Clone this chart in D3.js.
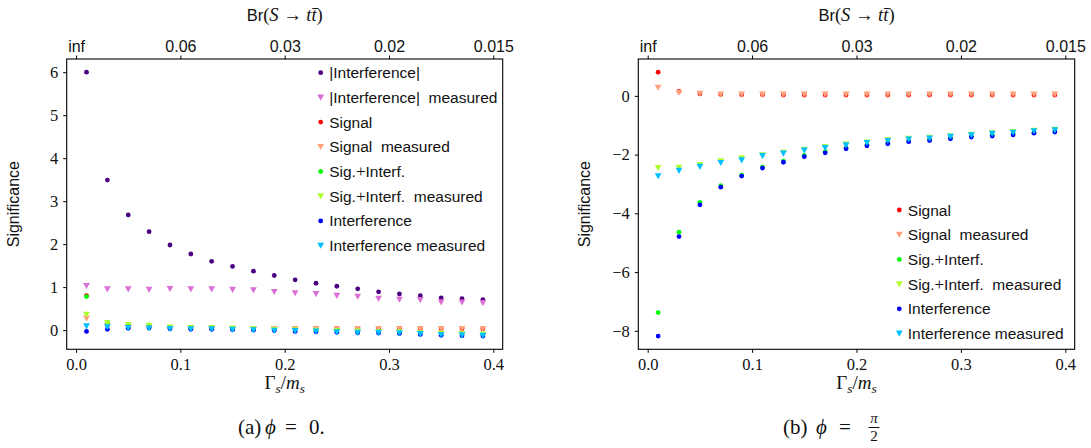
<!DOCTYPE html>
<html><head><meta charset="utf-8">
<script src="https://cdn.jsdelivr.net/npm/d3@7"></script>
<style>body{margin:0;background:#fff} svg{display:block}</style>
</head><body>
<script>
// ---------- data ----------
const gammaOverM = [0.01,0.03,0.05,0.07,0.09,0.11,0.13,0.15,0.17,0.19,0.21,0.23,0.25,0.27,0.29,0.31,0.33,0.35,0.37,0.39];
const xTicks = [0,0.1,0.2,0.3,0.4];
const brTickPositions = [0,0.1,0.2,0.3,0.4];
const brTickLabels = ["inf","0.06","0.03","0.02","0.015"];
const leftYTicks = [0,1,2,3,4,5,6];
const rightYTicks = [-8,-6,-4,-2,0];

// phi = 0
const absInterfL     = [6.0,3.49,2.68,2.29,1.98,1.77,1.60,1.48,1.37,1.27,1.17,1.09,1.02,0.96,0.89,0.84,0.80,0.75,0.73,0.71];
const absInterfMeasL = [1.03,0.95,0.95,0.94,0.96,0.95,0.95,0.94,0.93,0.89,0.86,0.84,0.80,0.78,0.73,0.71,0.70,0.65,0.645,0.63];
const signalL        = [0.80,0.12,0.07,0.06,0.05,0.04,0.04,0.03,0.03,0.03,0.03,0.03,0.03,0.03,0.03,0.03,0.03,0.03,0.03,0.03];
const signalMeasL    = [0.27,0.10,0.06,0.05,0.04,0.04,0.03,0.03,0.03,0.03,0.03,0.03,0.03,0.03,0.03,0.03,0.03,0.03,0.03,0.03];
const sigIntL        = [0.78,0.18,0.12,0.12,0.07,0.05,0.05,0.04,0.02,0.01,0.0,-0.01,-0.02,-0.03,-0.04,-0.05,-0.07,-0.08,-0.09,-0.10];
const sigIntMeasL    = [0.36,0.16,0.12,0.10,0.06,0.05,0.05,0.04,0.02,0.01,0.0,-0.01,-0.02,-0.03,-0.04,-0.05,-0.07,-0.08,-0.09,-0.10];
const interfL        = [-0.03,0.02,0.04,0.05,0.03,0.02,0.02,0.01,0.0,-0.01,-0.03,-0.04,-0.05,-0.06,-0.07,-0.08,-0.10,-0.12,-0.13,-0.14];
const interfMeasL    = [0.09,0.07,0.05,0.04,0.03,0.02,0.02,0.01,0.0,-0.01,-0.02,-0.03,-0.05,-0.06,-0.06,-0.07,-0.09,-0.11,-0.12,-0.13];

// phi = pi/2
const signalR        = [0.806,0.15,0.07,0.05,0.04,0.04,0.03,0.03,0.03,0.03,0.03,0.03,0.03,0.03,0.03,0.03,0.03,0.03,0.03,0.03];
const signalMeasR    = [0.28,0.11,0.08,0.05,0.05,0.05,0.05,0.05,0.05,0.05,0.05,0.05,0.05,0.05,0.05,0.05,0.05,0.05,0.05,0.05];
const sigIntR        = [-7.38,-4.64,-3.63,-3.06,-2.70,-2.43,-2.22,-2.03,-1.90,-1.77,-1.67,-1.60,-1.54,-1.49,-1.43,-1.38,-1.34,-1.30,-1.25,-1.21];
const sigIntMeasR    = [-2.45,-2.44,-2.35,-2.22,-2.12,-2.02,-1.93,-1.83,-1.74,-1.65,-1.58,-1.51,-1.46,-1.42,-1.37,-1.32,-1.27,-1.23,-1.18,-1.15];
const interfR        = [-8.18,-4.79,-3.71,-3.11,-2.73,-2.46,-2.26,-2.07,-1.94,-1.80,-1.70,-1.63,-1.56,-1.52,-1.46,-1.40,-1.37,-1.33,-1.27,-1.23];
const interfMeasR    = [-2.73,-2.55,-2.41,-2.28,-2.19,-2.04,-1.96,-1.86,-1.77,-1.68,-1.60,-1.53,-1.48,-1.45,-1.39,-1.34,-1.29,-1.25,-1.20,-1.17];

// ---------- styles ----------
const SANS = "Liberation Sans, Arial, sans-serif";
const SERIF = "Liberation Serif, Times New Roman, serif";
const W = 1091, H = 448;

const svg = d3.select("body").append("svg").attr("width", W).attr("height", H);

const leftSeries = [
  {label:["|Interference|"], data:absInterfL, color:"#4B0082", shape:"o"},
  {label:["|Interference|  measured"], data:absInterfMeasL, color:"#DA70D6", shape:"v"},
  {label:["Signal"], data:signalL, color:"#FF0000", shape:"o"},
  {label:["Signal  measured"], data:signalMeasL, color:"#FFA07A", shape:"v"},
  {label:["Sig.","+","Interf."], data:sigIntL, color:"#00FF00", shape:"o"},
  {label:["Sig.","+","Interf.  measured"], data:sigIntMeasL, color:"#ADFF2F", shape:"v"},
  {label:["Interference"], data:interfL, color:"#0000FF", shape:"o"},
  {label:["Interference measured"], data:interfMeasL, color:"#00BFFF", shape:"v"}
];
const rightSeries = [
  {label:["Signal"], data:signalR, color:"#FF0000", shape:"o"},
  {label:["Signal  measured"], data:signalMeasR, color:"#FFA07A", shape:"v"},
  {label:["Sig.","+","Interf."], data:sigIntR, color:"#00FF00", shape:"o"},
  {label:["Sig.","+","Interf.  measured"], data:sigIntMeasR, color:"#ADFF2F", shape:"v"},
  {label:["Interference"], data:interfR, color:"#0000FF", shape:"o"},
  {label:["Interference measured"], data:interfMeasR, color:"#00BFFF", shape:"v"}
];

function marker(g, shape, color, x, y) {
  if (shape === "o") {
    g.append("circle").attr("cx", x).attr("cy", y).attr("r", 2.4).attr("fill", color);
  } else {
    const a = 3.4;
    g.append("path").attr("d", `M${x-a},${y-a*0.85}L${x+a},${y-a*0.85}L${x},${y+a*0.95}Z`).attr("fill", color);
  }
}

function txt(g, x, y, s, size, italic) {
  return g.append("text").attr("x", x).attr("y", y).attr("font-family", SERIF).attr("font-size", size)
    .attr("font-style", italic ? "italic" : "normal").attr("fill", "#111").text(s);
}

function panel(cfg) {
  const {x0, x1, y0, y1, series, yTicks, legendX, legendY, caption} = cfg;
  const x = d3.scaleLinear().domain([-0.009, 0.409]).range([x0, x1]);
  const all = series.flatMap(s => s.data);
  const [mn, mx] = d3.extent(all);
  const pad = (mx - mn) * 0.05;
  const y = d3.scaleLinear().domain([mn - pad, mx + pad]).range([y1, y0]);

  const g = svg.append("g");
  series.forEach(s => {
    const sg = g.append("g");
    s.data.forEach((v, i) => marker(sg, s.shape, s.color, x(gammaOverM[i]), y(v)));
  });

  const bx = g.append("g").attr("transform", `translate(0,${y1})`)
    .call(d3.axisBottom(x).tickValues(xTicks).tickFormat(d3.format(".1f")).tickSizeOuter(0).tickSize(3.5).tickPadding(5));
  bx.select(".domain").remove();
  bx.selectAll("text").attr("font-family", SERIF).attr("font-size", 16.5).attr("fill", "#111");
  bx.selectAll("line").attr("stroke", "#000");

  const tx = g.append("g").attr("transform", `translate(0,${y0})`)
    .call(d3.axisTop(x).tickValues(brTickPositions).tickFormat((d, i) => brTickLabels[i]).tickSizeOuter(0).tickSize(3.5).tickPadding(4));
  tx.select(".domain").remove();
  tx.selectAll("text").attr("font-family", SANS).attr("font-size", 16).attr("fill", "#111");
  tx.selectAll("line").attr("stroke", "#000");

  const ly = g.append("g").attr("transform", `translate(${x0},0)`)
    .call(d3.axisLeft(y).tickValues(yTicks).tickFormat(d => d < 0 ? "\u2212" + Math.abs(d) : String(d)).tickSizeOuter(0).tickSize(3.5).tickPadding(5));
  ly.select(".domain").remove();
  ly.selectAll("text").attr("font-family", SERIF).attr("font-size", 16.5).attr("fill", "#111");
  ly.selectAll("line").attr("stroke", "#000");

  g.append("rect").attr("x", x0).attr("y", y0).attr("width", x1 - x0).attr("height", y1 - y0)
    .attr("fill", "none").attr("stroke", "#000").attr("stroke-width", 1.1);

  const cx = (x0 + x1) / 2;
  const tl = g.append("text").attr("x", cx).attr("y", 21).attr("text-anchor", "middle").attr("font-size", 18.5).attr("fill", "#111");
  tl.append("tspan").attr("font-family", SANS).attr("font-size", 16.5).text("Br");
  tl.append("tspan").attr("font-family", SERIF).text("(");
  tl.append("tspan").attr("font-family", SERIF).attr("font-style", "italic").text("S");
  tl.append("tspan").attr("font-family", SERIF).text(" \u2192 ");
  tl.append("tspan").attr("font-family", SERIF).attr("font-style", "italic").text("t");
  tl.append("tspan").attr("font-family", SERIF).attr("font-style", "italic").text("t\u0304");
  tl.append("tspan").attr("font-family", SERIF).text(")");

  const bl = g.append("text").attr("x", cx).attr("y", 389).attr("text-anchor", "middle").attr("font-family", SERIF).attr("font-size", 19).attr("fill", "#111");
  bl.append("tspan").text("\u0393");
  bl.append("tspan").attr("font-style", "italic").attr("font-size", 13.5).attr("dy", 4).text("s");
  bl.append("tspan").attr("dy", -4).text("/");
  bl.append("tspan").attr("font-style", "italic").text("m");
  bl.append("tspan").attr("font-style", "italic").attr("font-size", 13.5).attr("dy", 4).text("s");

  g.append("text").attr("transform", `translate(${x0 - 48},${(y0 + y1) / 2}) rotate(-90)`)
    .attr("text-anchor", "middle").attr("font-family", SANS).attr("font-size", 16).attr("fill", "#111").text("Significance");

  series.forEach((s, i) => {
    const yy = legendY + i * 24.7;
    marker(g, s.shape, s.color, legendX, yy);
    const t = g.append("text").attr("x", legendX + 8.5).attr("y", yy + 5.5).attr("font-family", SANS).attr("font-size", 15.5).attr("fill", "#111");
    s.label.forEach(part => {
      if (part === "+") t.append("tspan").attr("font-family", SERIF).attr("font-size", 17).text("+");
      else t.append("tspan").style("white-space", "pre").text(part);
    });
  });

  caption(g, cx);
}

panel({
  x0: 66.7, x1: 502.7, y0: 59, y1: 349.3, series: leftSeries, yTicks: leftYTicks,
  legendX: 320.7, legendY: 72.7,
  caption: (g) => {
    txt(g, 238, 434, "(a)", 21, false);
    txt(g, 265, 434, "\u03D5", 21, true);
    txt(g, 285, 434, "=", 21, false);
    txt(g, 309, 434, "0.", 21, false);
  }
});

panel({
  x0: 638.3, x1: 1074.7, y0: 59, y1: 349.3, series: rightSeries, yTicks: rightYTicks,
  legendX: 899.3, legendY: 210,
  caption: (g) => {
    txt(g, 783, 434, "(b)", 21, false);
    txt(g, 816, 434, "\u03D5", 21, true);
    txt(g, 839, 434, "=", 21, false);
    const fx = 874;
    txt(g, fx, 423, "\u03C0", 15, true).attr("text-anchor", "middle");
    g.append("line").attr("x1", fx - 5.5).attr("x2", fx + 5.5).attr("y1", 427.5).attr("y2", 427.5).attr("stroke", "#111").attr("stroke-width", 1);
    txt(g, fx, 441, "2", 15, false).attr("text-anchor", "middle");
  }
});
</script>
</body></html>
